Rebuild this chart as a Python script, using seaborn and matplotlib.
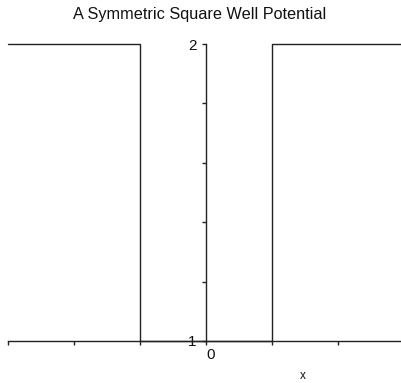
import matplotlib
matplotlib.use("Agg")
import matplotlib.pyplot as plt
import seaborn as sns
import pandas as pd

# Step-shaped potential: V = 2 outside the well, V = 1 inside |x| < 1
well_x = [-3.0, -1.0, -1.0, 1.0, 1.0, 3.0]
potential = [2.0, 2.0, 1.0, 1.0, 2.0, 2.0]
x_ticks = [-3, -2, -1, 0, 1, 2]
y_ticks = [1.0, 1.2, 1.4, 1.6, 1.8, 2.0]

sns.set_theme(style="white")
plt.rcParams["font.family"] = ["Liberation Sans", "DejaVu Sans"]

df = pd.DataFrame({"x": well_x, "V": potential})

fig = plt.figure(figsize=(4.02, 3.83), dpi=100)
ax = fig.add_axes([8 / 402, 42 / 383, 394 / 402, 297 / 383])

sns.lineplot(data=df, x="x", y="V", sort=False, estimator=None,
             color="#222222", linewidth=1.0, ax=ax, clip_on=False)

ax.set_xlim(-3.0, 2.97)
ax.set_ylim(1.0, 2.0)

for side in ("top", "right"):
    ax.spines[side].set_visible(False)
ax.spines["left"].set_position(("data", 0))
ax.spines["bottom"].set_position(("data", 1))
for side in ("left", "bottom"):
    ax.spines[side].set_color("#222222")
    ax.spines[side].set_linewidth(1.0)

ax.set_xticks(x_ticks)
ax.set_xticklabels(["" if t != 0 else "0" for t in x_ticks])
ax.set_yticks(y_ticks)
ax.set_yticklabels(["1" if t == 1.0 else ("2" if t == 2.0 else "") for t in y_ticks])
ax.tick_params(axis="both", direction="out", length=3, width=1.0,
               color="#222222", labelsize=11, labelcolor="#111111")
ax.tick_params(axis="x", pad=2, bottom=True)
ax.tick_params(axis="y", pad=4, left=True)
for lbl in ax.get_xticklabels():
    lbl.set_horizontalalignment("left")

ax.set_ylabel("")
ax.set_xlabel("x", fontsize=8.5, color="#111111", va="center")
ax.xaxis.set_label_coords(0.749, -0.118)
ax.patch.set_alpha(0)

fig.text(200 / 402, 1 - 15 / 383, "A Symmetric Square Well Potential",
         ha="center", va="center", fontsize=11.7, color="#111111")

fig.savefig("out.png", dpi=100)
